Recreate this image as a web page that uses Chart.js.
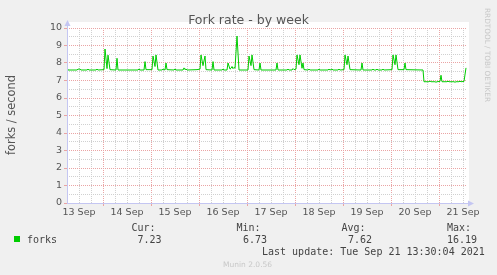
<!DOCTYPE html>
<html>
<head>
<meta charset="utf-8">
<script src="https://cdn.jsdelivr.net/npm/chart.js@4/dist/chart.umd.min.js"></script>
<style>
  html, body { margin: 0; padding: 0; background: #f0f0f0; }
  #wrap { width: 497px; height: 275px; }
</style>
</head>
<body>
<div id="wrap"><canvas id="chartForks" width="497" height="275"></canvas></div>
<script>
// hours since 13 Sep 00:00
var sampleHours = [
    6.0, 6.5, 11.0, 11.5, 12.5, 13.0, 16.0, 16.5, 17.0, 20.5, 21.0, 21.5,
    24.5, 25.0, 26.0, 26.5, 27.5, 30.5, 31.0, 31.5, 41.5, 42.0, 42.5,
    44.5, 45.0, 45.5, 48.5, 49.0, 50.0, 50.5, 51.5, 53.5, 54.0, 55.0, 55.5, 56.0,
    59.5, 60.0, 60.5, 64.0, 64.5, 65.0, 65.5, 66.0, 71.0, 72.5, 73.0, 74.0, 75.0, 75.5,
    78.5, 79.0, 79.5, 83.5, 84.0, 84.5, 86.0, 86.5, 87.5, 88.0, 88.5, 89.0, 89.5, 90.0,
    91.0, 92.0, 96.5, 97.0, 98.0, 98.5, 99.5, 102.0, 102.5, 103.0, 110.5, 111.0, 111.5,
    116.0, 116.5, 117.0, 118.5, 119.0, 119.5, 120.5, 121.0, 122.0, 122.5, 123.5, 124.0, 124.5,
    126.5, 127.0, 127.5, 131.5, 132.0, 132.5, 136.5, 137.0, 137.5, 138.5, 139.0,
    141.5, 142.0, 142.5, 144.5, 145.0, 146.0, 146.5, 147.5, 153.0, 153.5, 154.0,
    158.5, 159.0, 159.5, 160.5, 161.0, 161.5, 163.5, 164.0, 164.5,
    168.5, 169.0, 170.0, 170.5, 171.5, 174.5, 175.0, 175.5, 184.0, 184.5,
    187.0, 187.5, 188.0, 190.0, 190.5, 191.0, 192.5, 193.0, 193.5,
    196.0, 196.5, 197.0, 199.5, 200.0, 200.5, 202.0, 202.5, 203.0, 204.5, 205.5
];
var forkRate = [
    7.72, 7.6, 7.6, 7.65, 7.65, 7.6, 7.6, 7.65, 7.6, 7.6, 7.65, 7.6,
    7.62, 8.8, 7.68, 8.45, 7.62, 7.6, 8.27, 7.6, 7.6, 7.66, 7.6,
    7.6, 8.08, 7.62, 7.62, 8.4, 7.8, 8.46, 7.6, 7.6, 7.65, 7.6, 8.0, 7.62,
    7.6, 7.66, 7.6, 7.6, 7.72, 7.62, 7.66, 7.6, 7.62, 7.65, 8.46, 7.85, 8.4, 7.62,
    7.6, 8.08, 7.6, 7.6, 7.65, 7.6, 7.6, 8.0, 7.65, 7.7, 7.8, 7.68, 7.75, 7.7,
    9.54, 7.6, 7.6, 8.4, 7.85, 8.46, 7.62, 7.6, 8.0, 7.6, 7.6, 8.0, 7.6,
    7.6, 7.65, 7.6, 7.6, 7.68, 7.62, 7.65, 8.46, 7.9, 8.46, 7.7, 8.0, 7.62,
    7.6, 7.65, 7.6, 7.6, 7.65, 7.6, 7.6, 7.65, 7.6, 7.65, 7.6,
    7.6, 7.65, 7.6, 7.62, 8.46, 7.9, 8.4, 7.62, 7.6, 8.0, 7.6,
    7.6, 7.65, 7.6, 7.6, 7.65, 7.6, 7.6, 7.65, 7.6,
    7.62, 8.46, 7.9, 8.46, 7.62, 7.62, 8.0, 7.62, 7.6, 6.93,
    6.93, 6.97, 6.93, 6.93, 6.9, 6.93, 6.95, 7.3, 6.93,
    6.93, 6.96, 6.93, 6.93, 6.9, 6.93, 6.93, 6.96, 6.93, 6.95, 7.72
];
var dayLabels = ['13 Sep', '14 Sep', '15 Sep', '16 Sep', '17 Sep', '18 Sep', '19 Sep', '20 Sep', '21 Sep'];
var labelHours = [12, 36, 60, 84, 108, 132, 156, 180, 204];
var statNames = ['Cur:', 'Min:', 'Avg:', 'Max:'];
var statValues = ['7.23', '6.73', '7.62', '16.19'];

var RED = '#eaa4a4';
var GRAY = '#d0d0d0';
var AXIS = '#c4c6f2';

var xGrid = [];
for (var h = 6; h <= 204; h += 6) xGrid.push(h);
var yGrid = [];
for (var v = 0; v <= 10; v += 0.5) yGrid.push(v);

var munin = {
    id: 'munin',
    beforeDraw: function(chart) {
        var a = chart.chartArea, c = chart.ctx;
        c.save();
        c.fillStyle = '#fff';
        c.fillRect(a.left, a.top - 6, a.right - a.left + 2, a.bottom - a.top + 6);
        c.restore();
    },
    afterDraw: function(chart) {
        var a = chart.chartArea, c = chart.ctx;
        c.save();
        // axes with arrows
        c.strokeStyle = AXIS; c.fillStyle = AXIS; c.lineWidth = 1;
        c.beginPath();
        c.moveTo(a.left + 0.5, a.bottom); c.lineTo(a.left + 0.5, a.top - 4);
        c.moveTo(a.left, a.bottom + 0.5); c.lineTo(a.right + 3, a.bottom + 0.5);
        c.stroke();
        c.beginPath();
        c.moveTo(a.left - 2.5, a.top - 2); c.lineTo(a.left + 3.5, a.top - 2); c.lineTo(a.left + 0.5, a.top - 8);
        c.closePath(); c.fill();
        c.beginPath();
        c.moveTo(a.right + 1, a.bottom - 2.5); c.lineTo(a.right + 1, a.bottom + 3.5); c.lineTo(a.right + 7, a.bottom + 0.5);
        c.closePath(); c.fill();

        // title
        c.fillStyle = '#555';
        c.font = '12.5px "DejaVu Sans"';
        c.textAlign = 'center'; c.textBaseline = 'alphabetic';
        c.fillText('Fork rate - by week', 248.5, 24);

        // vertical label
        c.save();
        c.translate(15, 115); c.rotate(-Math.PI / 2);
        c.font = '11.4px "DejaVu Sans"';
        c.fillText('forks / second', 0, 0);
        c.restore();

        c.save();
        c.translate(484.5, 55); c.rotate(Math.PI / 2);
        c.font = '7.3px "DejaVu Sans"';
        c.fillStyle = '#c8c8c8';
        c.fillText('RRDTOOL / TOBI OETIKER', 0, 0);
        c.restore();

        // legend
        c.fillStyle = '#00cc00';
        c.fillRect(14, 236, 6, 6);
        c.font = '10px "DejaVu Sans Mono"';
        c.fillStyle = '#444';
        c.textAlign = 'left';
        c.fillText('forks', 27, 242.5);
        var nameX = [131.5, 236.5, 341.5, 447];
        var valX = [137.5, 243, 348, 447];
        for (var i = 0; i < statNames.length; i++) {
            c.fillText(statNames[i], nameX[i], 231);
            c.fillText(statValues[i], valX[i], 242.5);
        }
        c.fillText('Last update: Tue Sep 21 13:30:04 2021', 262, 254.5);

        c.font = '7.5px "DejaVu Sans"';
        c.fillStyle = '#c8c8c8';
        c.fillText('Munin 2.0.56', 223, 267);
        c.restore();
    }
};

document.addEventListener('DOMContentLoaded', function() {
    var ctx = document.getElementById('chartForks').getContext('2d');
    var points = sampleHours.map(function(h, i) { return { x: h, y: forkRate[i] }; });
    new Chart(ctx, {
        type: 'line',
        data: {
            datasets: [{
                label: 'forks',
                data: points,
                borderColor: '#00cc00',
                borderWidth: 1,
                pointRadius: 0,
                tension: 0,
                fill: false
            }]
        },
        options: {
            responsive: false,
            animation: false,
            layout: { padding: { left: 0, top: 28, right: 30, bottom: 52 } },
            plugins: { legend: { display: false }, tooltip: { enabled: false } },
            scales: {
                x: {
                    type: 'linear', min: 6, max: 206,
                    afterBuildTicks: function(s) { s.ticks = xGrid.map(function(v) { return { value: v }; }); },
                    afterFit: function(s) { s.height = 20; },
                    ticks: {
                        autoSkip: false, maxRotation: 0, padding: 1, color: '#555',
                        font: { family: 'DejaVu Sans', size: 9.5 },
                        callback: function(v) {
                            var i = labelHours.indexOf(v);
                            return i >= 0 ? dayLabels[i] : '';
                        }
                    },
                    grid: {
                        color: function(c) { return c.tick && c.tick.value % 24 === 0 ? RED : GRAY; },
                        tickColor: function(c) { return c.tick && c.tick.value % 24 === 0 ? RED : 'rgba(0,0,0,0)'; },
                        tickLength: 3, lineWidth: 1
                    },
                    border: { display: false, dash: [1, 1] }
                },
                y: {
                    min: 0, max: 10,
                    afterBuildTicks: function(s) { s.ticks = yGrid.map(function(v) { return { value: v }; }); },
                    afterFit: function(s) { s.width = 67; },
                    ticks: {
                        autoSkip: false, padding: 2, color: '#555',
                        font: { family: 'DejaVu Sans', size: 9.5 },
                        callback: function(v) { return v % 1 === 0 ? String(v) : ''; }
                    },
                    grid: {
                        color: function(c) { return c.tick && c.tick.value % 1 === 0 ? RED : GRAY; },
                        tickColor: function(c) { return c.tick && c.tick.value % 1 === 0 ? RED : 'rgba(0,0,0,0)'; },
                        tickLength: 3, lineWidth: 1
                    },
                    border: { display: false, dash: [1, 1] }
                }
            }
        },
        plugins: [munin]
    });
});
</script>
</body>
</html>
